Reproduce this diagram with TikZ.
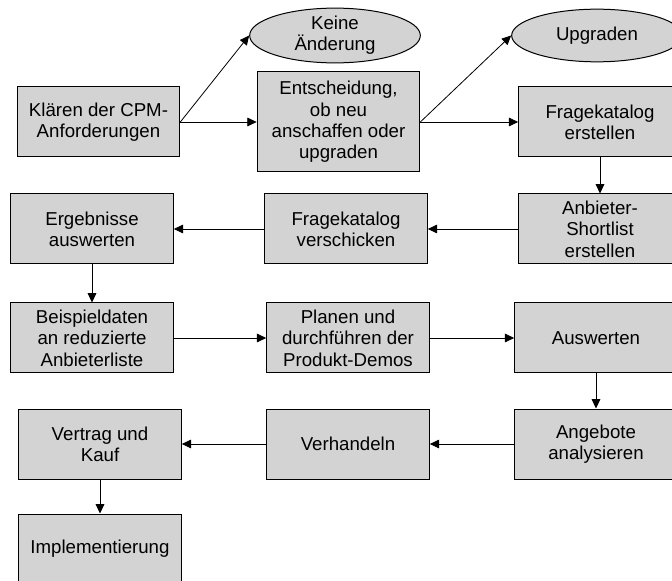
\documentclass[tikz,border=0pt]{standalone}
\usepackage{fontspec}
\setmainfont{Liberation Sans}
\usepackage{tikz}
\usetikzlibrary{shapes.geometric}
\usetikzlibrary{arrows.meta}
\definecolor{kastengrau}{RGB}{211,211,211}

\begin{document}
\begin{tikzpicture}[x=0.75pt,y=-0.75pt,
    kasten/.style={draw,fill=kastengrau,line width=0.75pt,
      minimum width=122pt,minimum height=52.5pt,inner sep=1pt,
      align=center,font=\fontsize{14}{16}\selectfont},
    oval/.style={draw,fill=kastengrau,ellipse,line width=0.75pt,
      minimum width=128pt,minimum height=39.5pt,inner sep=0pt,
      align=center,font=\fontsize{14}{16}\selectfont},
    pfeil/.style={-{Triangle[length=7pt,width=6.5pt]},line width=0.6pt}]
    \useasboundingbox (0,0) rectangle (672,581);
    \node[kasten] (klaeren) at (98.5,122) {Klären der CPM-\\Anforderungen};
    \node[kasten,minimum height=75pt] (entscheidung) at (338.5,122)
      {Entscheidung,\\ob neu\\anschaffen oder\\upgraden};
    \node[kasten] (katalog) at (600,122) {Fragekatalog\\erstellen};
    \node[oval] (keine) at (335,35.5) {Keine\\Änderung};
    \node[oval] (upgraden) at (597,35.5) {Upgraden};
    \node[kasten] (shortlist) at (600,229) {Anbieter-\\Shortlist\\erstellen};
    \node[kasten] (verschicken) at (346,229) {Fragekatalog\\verschicken};
    \node[kasten] (ergebnisse) at (92,229) {Ergebnisse\\auswerten};
    \node[kasten] (beispiel) at (92,338) {Beispieldaten\\an reduzierte\\Anbieterliste};
    \node[kasten] (planen) at (348,338) {Planen und\\durchführen der\\Produkt-Demos};
    \node[kasten] (auswerten) at (596,338) {Auswerten};
    \node[kasten] (angebote) at (596,444) {Angebote\\analysieren};
    \node[kasten] (verhandeln) at (348,444) {Verhandeln};
    \node[kasten] (vertrag) at (100,444) {Vertrag und\\Kauf};
    \node[kasten] (implementierung) at (100,549) {Implementierung};
    \draw[pfeil] (klaeren.east) -- (keine.west);
    \draw[pfeil] (klaeren) -- (entscheidung);
    \draw[pfeil] (entscheidung.east) -- (upgraden.west);
    \draw[pfeil] (entscheidung) -- (katalog);
    \draw[pfeil] (katalog) -- (shortlist);
    \draw[pfeil] (shortlist) -- (verschicken);
    \draw[pfeil] (verschicken) -- (ergebnisse);
    \draw[pfeil] (ergebnisse) -- (beispiel);
    \draw[pfeil] (beispiel) -- (planen);
    \draw[pfeil] (planen) -- (auswerten);
    \draw[pfeil] (auswerten) -- (angebote);
    \draw[pfeil] (angebote) -- (verhandeln);
    \draw[pfeil] (verhandeln) -- (vertrag);
    \draw[pfeil] (vertrag) -- (implementierung);
\end{tikzpicture}
\end{document}
